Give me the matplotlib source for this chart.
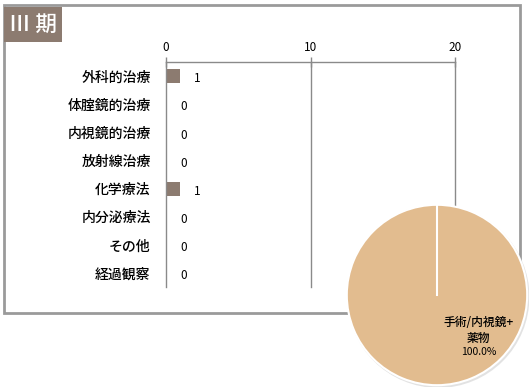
import matplotlib
matplotlib.use("Agg")
import matplotlib.pyplot as plt
from matplotlib.patches import Rectangle, Circle

plt.rcParams['font.family'] = ['Noto Sans CJK JP', 'DejaVu Sans']

title = "Ⅲ 期"
categories = ["外科的治療", "体腟鏡的治療", "内視鏡的治療", "放射線治療",
              "化学療法", "内分泌療法", "その他", "経過観察"]
values = [1, 0, 0, 0, 1, 0, 0, 0]
xticks = [0, 10, 20]

pie_labels = ["手術/内視鏡+\n薬物"]
pie_values = [1]

W, H = 531, 387
fig = plt.figure(figsize=(W / 100, H / 100), dpi=100)

def fx(px):
    return px / W

def fy(py):
    return 1 - py / H

gray = "#8a8a8a"
bar_color = "#8c7b70"

# outer frame
frame = Rectangle((fx(4), fy(313)), fx(520 - 4), (313 - 5) / H, transform=fig.transFigure,
                  fill=False, edgecolor="#9a9a9a", linewidth=2, zorder=0.5)
fig.patches.append(frame)
# title box
tbox = Rectangle((fx(4), fy(42)), fx(62 - 4), (42 - 7) / H, transform=fig.transFigure,
                 facecolor=bar_color, edgecolor="none", zorder=0.6)
fig.patches.append(tbox)
fig.text(fx(33), fy(25), title, color="white", fontsize=15.5, fontweight="medium",
         ha="center", va="center", zorder=0.7)

# bar chart
ax = fig.add_axes([fx(166), fy(287), fx(455 - 166), (287 - 62) / H], zorder=1)
ax.patch.set_alpha(0)
y = list(range(len(categories)))
ax.barh(y, values, height=0.5, color=bar_color)
ax.set_xlim(0, 20)
ax.set_ylim(len(categories) - 0.5, -0.5)
ax.set_yticks(y)
ax.set_yticklabels(categories, fontsize=10, fontweight="medium")
ax.tick_params(axis='y', length=0, pad=11)
ax.xaxis.tick_top()
ax.set_xticks(xticks)
ax.set_xticklabels([str(t) for t in xticks], fontsize=8.5)
ax.tick_params(axis='x', direction='inout', length=7, width=1, color=gray, pad=2)
for s in ["bottom", "right"]:
    ax.spines[s].set_visible(False)
for s in ["top", "left"]:
    ax.spines[s].set_color(gray)
    ax.spines[s].set_linewidth(1)
for t in xticks[1:]:
    ax.axvline(t, color=gray, linewidth=1, zorder=0, clip_on=False)
for yi, v in zip(y, values):
    ax.annotate(str(v), (v, yi), xytext=(10, -2), textcoords="offset points",
                ha="left", va="center", fontsize=8.5)

# pie chart
R = 92
cx, cy = 437, 295
pax = fig.add_axes([fx(cx - R), fy(cy + R), 2 * R / W, 2 * R / H], zorder=2)
shadow = Circle((0.015, -0.02), 1.01, facecolor="#d0d0d0", edgecolor="none", alpha=0.6)
pax.add_patch(shadow)
pax.pie(pie_values, colors=["#e2bc8f"], startangle=90, counterclock=False, radius=1,
        wedgeprops=dict(edgecolor="white", linewidth=1.5))
pax.plot([0, 0], [0, 1], color="white", linewidth=1.5)
pax.set_xlim(-1.02, 1.02)
pax.set_ylim(-1.02, 1.02)
pax.set_aspect("equal")
pax.axis("off")
pct = 100.0 * pie_values[0] / sum(pie_values)
pax.text(0.46, -0.39, pie_labels[0], ha="center", va="center", fontsize=8.5,
         fontweight="medium", linespacing=1.3)
pax.text(0.46, -0.63, f"{pct:.1f}%", ha="center", va="center", fontsize=7.5)

fig.savefig("out.png", dpi=100)
